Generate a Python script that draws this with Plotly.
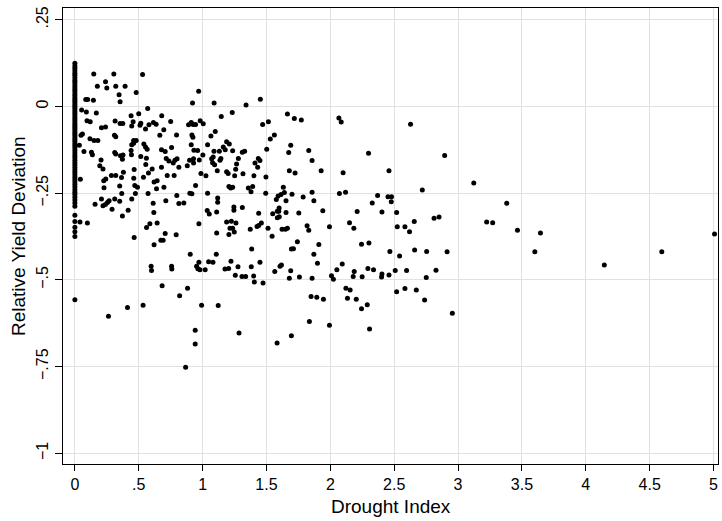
import plotly.graph_objects as go

# Points stacked at drought index 0
col0_y = [0.125, 0.117, 0.11, 0.103, 0.096, 0.09, 0.083, 0.076, 0.07, 0.063, 0.056, 0.05,
          0.043, 0.036, 0.03, 0.024, 0.018, 0.012, 0.006, 0.0, -0.006, -0.012, -0.018,
          -0.024, -0.03, -0.036, -0.042, -0.048, -0.054, -0.06, -0.066, -0.072, -0.078,
          -0.084, -0.09, -0.096, -0.102, -0.108, -0.114, -0.12, -0.127, -0.134, -0.141,
          -0.148, -0.155, -0.162, -0.169, -0.176, -0.183, -0.19, -0.197, -0.204, -0.211,
          -0.218, -0.225, -0.232, -0.24, -0.247, -0.254, -0.262, -0.27, -0.278, -0.288,
          -0.314, -0.332, -0.348, -0.361, -0.375, -0.557]

drought_index = [
    0.148, 0.305, 0.53, 0.24, 0.176, 0.25, 0.32, 0.393, 0.346, 0.354, 0.48, 0.085, 0.1, 0.145,
    0.57, 0.053, 0.09, 0.168, 0.50, 0.44, 0.68, 0.095, 0.12, 0.315, 0.354, 0.375, 0.445, 0.456,
    0.516, 0.51, 0.58, 0.615, 0.636, 0.75, 0.89, 0.553, 0.696, 0.208, 0.24, 0.059, 0.048, 0.31,
    0.32, 0.665, 0.796, 0.118, 0.15, 0.18, 0.46, 0.48, 0.445, 0.46, 0.035, 0.54, 0.553, 0.566,
    0.44, 0.443, 0.678, 0.707, 0.757, 0.071, 0.13, 0.137, 0.312, 0.32, 0.357, 0.372, 0.377,
    0.205, 0.516, 0.56, 0.715, 0.736, 0.783, 0.8, 0.77, 0.814, 0.88, 0.195, 0.22, 0.464, 0.555,
    0.605, 0.678, 0.38, 0.242, 0.286, 0.32, 0.365, 0.537, 0.723, 0.777, 0.043,
    0.461, 0.576, 0.226, 0.351, 0.469, 0.49, 0.62, 0.644, 0.639, 0.697, 0.228, 0.367, 0.474,
    0.573, 0.798, 0.158, 0.208, 0.22, 0.239, 0.255, 0.268, 0.291, 0.312, 0.351, 0.372, 0.417,
    0.445, 0.613, 0.712, 0.814, 0.618, 0.04, 0.098, 0.561, 0.587, 0.644, 0.464, 0.707, 0.793,
    0.62, 0.673, 0.691, 0.597, 0.6, 0.757, 0.759, 0.683, 0.882, 0.82,
    0.263, 0.412, 0.534, 0.867,
    0.969, 0.921, 1.09, 1.34, 1.452, 1.232, 1.146, 1.664, 1.718, 1.773, 0.911, 0.926, 0.945,
    0.981, 1.005, 1.47, 1.515, 1.099, 1.065, 0.916, 0.924, 1.039, 0.911, 1.188, 1.209, 1.562,
    1.53, 1.69, 1.162, 1.177, 0.932, 0.961, 1.002, 1.089, 1.131, 1.235, 1.311, 1.329, 1.502,
    1.674, 1.831, 0.898, 0.929, 0.974, 0.929, 1.071, 1.083, 1.078, 1.094, 1.136, 1.143, 1.28,
    1.266, 1.259, 1.436, 1.449, 1.41, 1.431, 0.987, 1.026, 1.115, 1.188, 1.2, 1.251, 1.316,
    1.402, 1.496, 1.679, 1.724,
    0.945, 0.9, 0.916, 0.853, 1.039, 1.118, 1.118, 1.206, 1.22, 1.235, 1.358, 1.392, 1.379,
    1.494, 1.036, 1.052, 1.11, 1.245, 1.245, 1.311, 1.439, 0.971, 1.188, 1.225, 1.261, 1.214,
    1.235, 1.248, 1.206, 1.11, 1.373, 1.426, 1.439, 1.46, 1.512, 1.544, 1.549, 1.585, 1.599,
    1.596, 1.6, 1.585, 1.577, 1.591, 1.614, 1.64, 1.632, 1.653, 1.7, 1.753, 1.787, 1.653,
    1.622, 1.648, 1.664, 1.818, 1.831, 1.384, 1.742, 1.695, 1.711, 0.903, 1.107, 0.971, 0.953,
    0.963, 0.979, 1.02, 1.047, 1.081, 1.175, 1.204, 1.222, 1.277, 1.381, 1.449, 1.256, 1.308,
    1.337, 1.4, 1.405, 1.473, 1.565, 1.606, 1.617, 1.69, 1.679, 1.758,
    0.992, 1.122, 0.942, 0.942, 1.285, 1.583, 1.695, 1.836,
    2.067, 2.085, 2.628, 1.857, 1.928, 2.299, 2.1, 2.459,
    1.857, 1.871, 2.071, 2.119, 2.37, 2.451, 2.479, 2.477, 2.72, 2.328, 1.941, 2.21, 2.404,
    2.519, 2.15, 2.184, 1.993, 2.657, 2.524, 2.584, 2.62, 1.91, 1.871, 1.899, 2.244, 2.302,
    2.466, 2.66, 2.754, 2.542, 2.093, 2.051, 2.009, 2.024, 1.857, 2.187, 2.179, 2.249, 2.294,
    2.338, 2.404, 2.401, 2.459, 2.508, 2.597, 2.751, 2.122, 2.155, 1.849, 1.894, 1.946, 2.134,
    2.203, 2.519, 2.584, 2.673,
    2.244, 2.289, 2.307, 1.993, 2.738,
    2.895, 3.123, 3.381, 2.812, 2.851, 3.224, 3.271, 3.465, 3.645, 3.601, 2.914, 2.827, 2.955,
    4.145, 4.595, 5.008,
]

yield_deviation = [
    0.094, 0.094, 0.092, 0.071, 0.058, 0.053, 0.058, 0.058, 0.034, 0.014, 0.04, 0.02, 0.02, 0.018,
    -0.006, -0.01, -0.016, -0.019, -0.021, -0.027, -0.027, -0.041, -0.044, -0.042, -0.049, -0.049,
    -0.056, -0.044, -0.048, -0.054, -0.053, -0.046, -0.051, -0.043, -0.053, -0.065, -0.067,
    -0.061, -0.059, -0.079, -0.083, -0.083, -0.087, -0.083, -0.082, -0.093, -0.098, -0.098,
    -0.098, -0.098, -0.11, -0.106, -0.112, -0.108, -0.117, -0.123, -0.127, -0.139, -0.125,
    -0.13, -0.118, -0.13, -0.132, -0.139, -0.133, -0.137, -0.142, -0.152, -0.14, -0.154, -0.144,
    -0.149, -0.15, -0.157, -0.155, -0.151, -0.163, -0.175, -0.171, -0.171, -0.18, -0.182,
    -0.167, -0.18, -0.175, -0.19, -0.209, -0.199, -0.199, -0.205, -0.204, -0.199, -0.199, -0.21,
    -0.207, -0.192, -0.214, -0.229, -0.228, -0.233, -0.218, -0.214, -0.237, -0.233, -0.234,
    -0.251, -0.251, -0.251, -0.257, -0.282, -0.267, -0.286, -0.283, -0.277, -0.272, -0.296,
    -0.267, -0.273, -0.316, -0.299, -0.267, -0.279, -0.272, -0.28, -0.306, -0.333, -0.336,
    -0.349, -0.338, -0.336, -0.378, -0.366, -0.37, -0.399, -0.386, -0.386, -0.461, -0.473,
    -0.461, -0.469, -0.517, -0.524, -0.546,
    -0.605, -0.58, -0.573, -0.752,
    0.044, 0.01, 0.01, 0.004, 0.021, -0.017, -0.029, -0.022, -0.035, -0.039, -0.046, -0.052,
    -0.052, -0.041, -0.05, -0.052, -0.044, -0.072, -0.085, -0.082, -0.089, -0.11, -0.11, -0.102,
    -0.108, -0.082, -0.094, -0.112, -0.117, -0.125, -0.126, -0.127, -0.14, -0.129, -0.129,
    -0.128, -0.132, -0.129, -0.123, -0.133, -0.127, -0.155, -0.151, -0.154, -0.163, -0.151,
    -0.146, -0.162, -0.168, -0.155, -0.15, -0.15, -0.166, -0.181, -0.15, -0.156, -0.163, -0.175,
    -0.193, -0.2, -0.185, -0.188, -0.193, -0.2, -0.194, -0.2, -0.203, -0.185, -0.192,
    -0.228, -0.25, -0.252, -0.278, -0.25, -0.264, -0.276, -0.231, -0.235, -0.233, -0.235,
    -0.231, -0.246, -0.25, -0.3, -0.31, -0.304, -0.29, -0.299, -0.291, -0.308, -0.338, -0.333,
    -0.331, -0.336, -0.351, -0.351, -0.362, -0.369, -0.365, -0.354, -0.346, -0.343, -0.336,
    -0.351, -0.374, -0.309, -0.302, -0.293, -0.302, -0.318, -0.321, -0.268, -0.258, -0.254,
    -0.248, -0.233, -0.272, -0.253, -0.307, -0.261, -0.306, -0.354, -0.354, -0.351, -0.344,
    -0.357, -0.411, -0.39, -0.411, -0.41, -0.426, -0.426, -0.449, -0.461, -0.468, -0.471,
    -0.471, -0.448, -0.449, -0.469, -0.467, -0.446, -0.462, -0.462, -0.449, -0.487, -0.49,
    -0.49, -0.489, -0.506, -0.509, -0.476, -0.461, -0.457, -0.474, -0.495, -0.492,
    -0.573, -0.574, -0.645, -0.685, -0.653, -0.682, -0.661, -0.62,
    -0.033, -0.045, -0.051, -0.156, -0.185, -0.135, -0.191, -0.185,
    -0.247, -0.272, -0.251, -0.247, -0.257, -0.26, -0.26, -0.275, -0.241, -0.278, -0.301,
    -0.303, -0.304, -0.306, -0.335, -0.351, -0.347, -0.332, -0.347, -0.347, -0.361, -0.398,
    -0.426, -0.452, -0.397, -0.394, -0.418, -0.414, -0.418, -0.431, -0.454, -0.471, -0.488,
    -0.498, -0.495, -0.476, -0.49, -0.491, -0.467, -0.471, -0.483, -0.492, -0.486, -0.473,
    -0.473, -0.493, -0.524, -0.529, -0.548, -0.55, -0.556, -0.553, -0.556, -0.534, -0.525,
    -0.529,
    -0.583, -0.572, -0.642, -0.631, -0.558,
    -0.141, -0.221, -0.279, -0.322, -0.319, -0.333, -0.335, -0.357, -0.365, -0.419, -0.419,
    -0.472, -0.596, -0.457, -0.419, -0.368,
]

x_tick_vals = [0, 0.5, 1, 1.5, 2, 2.5, 3, 3.5, 4, 4.5, 5]
x_tick_text = ["0", ".5", "1", "1.5", "2", "2.5", "3", "3.5", "4", "4.5", "5"]
y_tick_vals = [0.25, 0, -0.25, -0.5, -0.75, -1]
y_tick_text = [".25", "0", "\u2212.25", "\u2212.5", "\u2212.75", "\u22121"]

x_title = "Drought Index"
y_title = "Relative Yield Deviation"

all_x = [0.0] * len(col0_y) + drought_index
all_y = col0_y + yield_deviation

fig = go.Figure()
fig.add_trace(go.Scatter(
    x=all_x, y=all_y, mode="markers",
    marker=dict(color="black", size=5, line=dict(width=0)),
    showlegend=False, hoverinfo="skip", cliponaxis=False,
))

font_family = "Liberation Sans, Arial, sans-serif"
grid_col = "#e1e1e1"

fig.update_layout(
    width=722, height=521,
    margin=dict(l=63, r=4, t=8, b=57, autoexpand=False),
    paper_bgcolor="white", plot_bgcolor="white",
    font=dict(family=font_family, size=16, color="black"),
    xaxis=dict(
        range=[-0.093, 5.035], automargin=False,
        tickvals=x_tick_vals, ticktext=x_tick_text,
        showgrid=True, gridcolor=grid_col, gridwidth=1,
        zeroline=False, showline=True, linecolor="black", linewidth=1.3,
        mirror=True, ticks="outside", ticklen=6, tickwidth=1, tickcolor="black",
        tickfont=dict(size=16),
    ),
    yaxis=dict(
        range=[-1.031, 0.284], automargin=False,
        tickvals=y_tick_vals, ticktext=y_tick_text, tickangle=-90,
        showgrid=True, gridcolor=grid_col, gridwidth=1,
        zeroline=False, showline=True, linecolor="black", linewidth=1.3,
        mirror=True, ticks="outside", ticklen=7, tickwidth=1, tickcolor="black",
        tickfont=dict(size=16),
    ),
    annotations=[
        dict(text=x_title, xref="paper", yref="paper", x=0.5, y=0,
             xanchor="center", yanchor="middle", yshift=-42, showarrow=False,
             font=dict(size=19)),
        dict(text=y_title, xref="paper", yref="paper", x=0, y=0.5,
             xanchor="center", yanchor="middle", xshift=-45, textangle=-90,
             showarrow=False, font=dict(size=19)),
    ],
)

fig.write_html(
    "out.html",
    config={"displayModeBar": False},
    post_script="document.body.style.margin='0px';document.body.style.padding='0px';",
)
